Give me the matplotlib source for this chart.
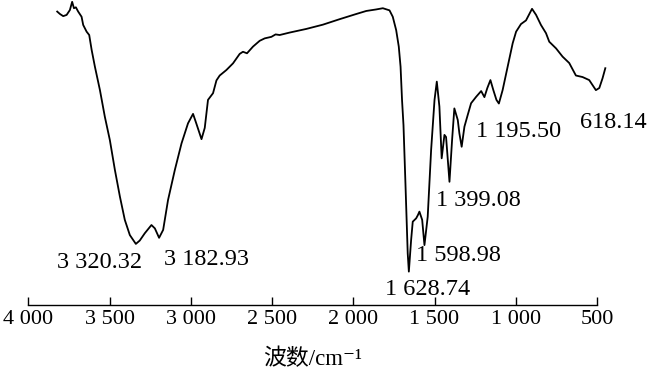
import matplotlib
matplotlib.use("Agg")
import matplotlib.pyplot as plt

plt.rcParams['font.family'] = ['Liberation Serif', 'Noto Sans CJK SC', 'DejaVu Sans']

# FTIR spectrum (wavenumber in cm-1, transmittance a.u.)
wavenumber = [3822, 3805, 3785, 3764, 3744, 3730, 3719, 3707, 3693, 3672,
              3662, 3641, 3625, 3610, 3590, 3559, 3529, 3498, 3467, 3436,
              3406, 3375, 3338, 3314, 3283, 3242, 3221, 3195, 3170, 3140,
              3098, 3057, 3017, 2986, 2965, 2934, 2914, 2894, 2863, 2842,
              2822, 2781, 2740, 2699, 2679, 2654, 2617, 2576, 2545, 2504,
              2478, 2453, 2392, 2289, 2187, 2084, 1982, 1920, 1859, 1818,
              1777, 1757, 1736, 1720, 1709, 1700, 1691, 1679, 1665, 1658,
              1644, 1634, 1613, 1602, 1593, 1576, 1562, 1542, 1521, 1500,
              1486, 1470, 1456, 1439, 1429, 1408, 1392, 1378, 1357, 1347,
              1333, 1316, 1296, 1275, 1244, 1213, 1193, 1175, 1156, 1138,
              1119, 1104, 1081, 1050, 1019, 998, 968, 937, 900, 875,
              845, 814, 794, 752, 712, 671, 630, 589, 548, 507,
              486, 466, 449]
transmittance = [96.2, 95.4, 94.7, 95.1, 96.7, 99.4, 97.3, 97.6, 96.2, 94.5,
                 91.8, 89.6, 88.5, 83.6, 78.1, 70.4, 61.7, 54.0, 44.2, 35.4,
                 27.8, 22.8, 19.9, 21.0, 23.4, 26.1, 25.0, 21.9, 24.5, 34.3,
                 44.2, 52.9, 59.5, 62.6, 59.3, 54.3, 58.0, 67.2, 69.4, 73.6,
                 75.2, 77.0, 79.2, 82.3, 83.0, 82.5, 84.7, 86.6, 87.4, 87.9,
                 88.7, 88.5, 89.3, 90.5, 91.9, 93.7, 95.4, 96.4, 96.9, 97.3,
                 96.6, 94.5, 90.1, 84.7, 78.1, 67.2, 58.9, 39.8, 16.8, 10.8,
                 21.2, 27.2, 28.3, 29.4, 30.5, 27.8, 19.5, 28.8, 50.7, 67.2,
                 73.2, 65.0, 48.0, 55.7, 55.0, 40.3, 54.0, 64.4, 60.6, 56.2,
                 51.8, 58.4, 62.2, 66.1, 68.2, 70.1, 68.1, 71.1, 73.7, 70.4,
                 67.2, 66.0, 70.4, 78.1, 85.8, 89.6, 92.1, 93.3, 97.1, 95.1,
                 91.8, 89.1, 86.3, 84.1, 81.4, 79.3, 75.2, 74.7, 73.7, 70.4,
                 71.1, 74.3, 77.6]

# peak labels and where their text starts (left edge, baseline)
peak_labels = ['3 320.32', '3 182.93', '1 628.74', '1 598.98',
               '1 399.08', '1 195.50', '618.14']
label_x = [3822, 3166, 1802, 1613, 1490, 1244, 605]
label_y = [12.0, 13.0, 3.1, 14.4, 32.3, 55.1, 58.0]

ticks = [4000, 3500, 3000, 2500, 2000, 1500, 1000, 500]
tick_labels = ['4 000', '3 500', '3 000', '2 500', '2 000', '1 500', '1 000', '500']

fig = plt.figure(figsize=(6.5, 3.75), dpi=100)
ax = fig.add_axes([0.0435, 0.188, 0.875, 0.812])

ax.plot(wavenumber, transmittance, color='black', lw=1.3, clip_on=False,
        solid_joinstyle='round')

for txt, x, y in zip(peak_labels, label_x, label_y):
    ax.text(x, y, txt, fontsize=17.5, ha='left', va='baseline')

ax.set_xlim(4000, 500)
ax.set_ylim(0, 100)

# only the bottom axis is drawn
for side in ['left', 'right', 'top']:
    ax.spines[side].set_visible(False)
ax.spines['bottom'].set_linewidth(1.0)
ax.set_yticks([])
ax.set_xticks(ticks)
ax.set_xticklabels(tick_labels)
ax.tick_params(axis='x', direction='in', length=6, width=1.0,
               labelsize=16, pad=4)

ax.set_xlabel('波数/cm⁻¹', fontsize=16.5, labelpad=14)

fig.savefig('out.png', dpi=100)
